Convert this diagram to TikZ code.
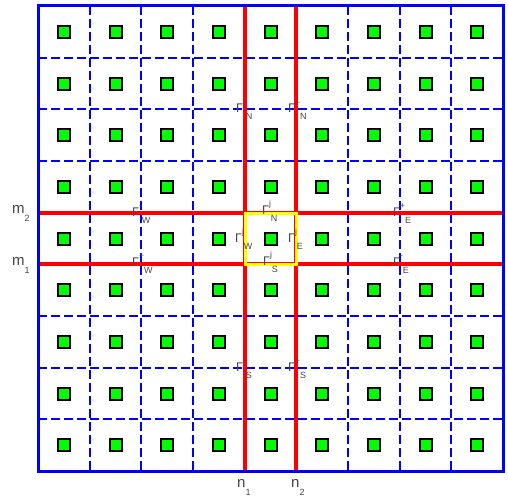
\documentclass[tikz,border=0pt]{standalone}
\usepackage{fontspec}
\setmainfont{Liberation Sans}
\definecolor{labgray}{RGB}{70,70,70}
\definecolor{pgreen}{RGB}{0,255,0}
\definecolor{pblue}{RGB}{0,0,255}
\definecolor{pred}{RGB}{255,0,0}
\definecolor{pyellow}{RGB}{255,255,0}
\newcommand\glab[2]{Γ\raisebox{7.5pt}{\fontsize{8.5}{8.5}\selectfont#1}\raisebox{-7pt}{\fontsize{9}{9}\selectfont#2}}
\newcommand\idxlab[2]{#1\raisebox{-8pt}{\fontsize{9}{9}\selectfont#2}}
\begin{document}
\begin{tikzpicture}[x=1pt,y=-1pt,
  cellbox/.style={draw=black,fill=pgreen,line width=2pt,minimum size=12pt,inner sep=0pt},
  lab/.style={text=labgray,inner sep=0pt,anchor=base west,font=\fontsize{12.5}{12.5}\selectfont},
  biglab/.style={text=labgray,inner sep=0pt,anchor=base west,font=\fontsize{15}{15}\selectfont},
  gridline/.style={draw=pblue,line width=1.3pt,dash pattern=on 9pt off 4pt},
  redline/.style={draw=pred,line width=4pt},
  ]
\useasboundingbox (0,0) rectangle (508,497);
\fill[white] (0,0) rectangle (508,497);
% dashed grid
\foreach \p in {90,141,193,348,400,451} {
  \draw[gridline] (\p,6) -- (\p,471);
}
\foreach \p in {58,109,161,316,368,419} {
  \draw[gridline] (38,\p) -- (503,\p);
}
% green cells
\foreach \x [count=\i] in {64,116,167,219,271,322,374,426,477} {
  \foreach \y [count=\j] in {32,84,135,187,239,290,342,394,445} {
    \node[cellbox] (g\i-\j) at (\x,\y) {};
  }
}
% red interface lines
\draw[redline] (245,6) -- (245,471);
\draw[redline] (296,6) -- (296,471);
\draw[redline] (38,213) -- (503,213);
\draw[redline] (38,264) -- (503,264);
% yellow subdomain
\draw[draw=pyellow,line width=3pt] (245,213) rectangle (296,264);
% outer boundary
\draw[draw=pblue,line width=3pt] (38,6) rectangle (503,471);
% labels
\node[lab] (gNm) at (236,113) {\glab{-}{N}};
\node[lab] (gNp) at (288,113) {\glab{+}{N}};
\node[lab] (gSm) at (236,371) {\glab{-}{S}};
\node[lab] (gSp) at (288,371) {\glab{+}{S}};
\node[lab] (gWm) at (132,216) {\glab{-}{W}};
\node[lab] (gWp) at (132,266) {\glab{+}{W}};
\node[lab] (gEp) at (393,216) {\glab{+}{E}};
\node[lab] (gEm) at (393,266) {\glab{-}{E}};
\node[lab] (cN) at (262,214) {\glab{j}{N}};
\node[lab] (cW) at (235,242) {\glab{j}{W}};
\node[lab] (cE) at (288,242) {\glab{j}{E}};
\node[lab] (cS) at (263,265) {\glab{j}{S}};
\node[biglab] (m2) at (12,213) {\idxlab{m}{2}};
\node[biglab] (m1) at (12,265) {\idxlab{m}{1}};
\node[biglab] (n1) at (237,487) {\idxlab{n}{1}};
\node[biglab] (n2) at (291,487) {\idxlab{n}{2}};
\end{tikzpicture}
\end{document}
